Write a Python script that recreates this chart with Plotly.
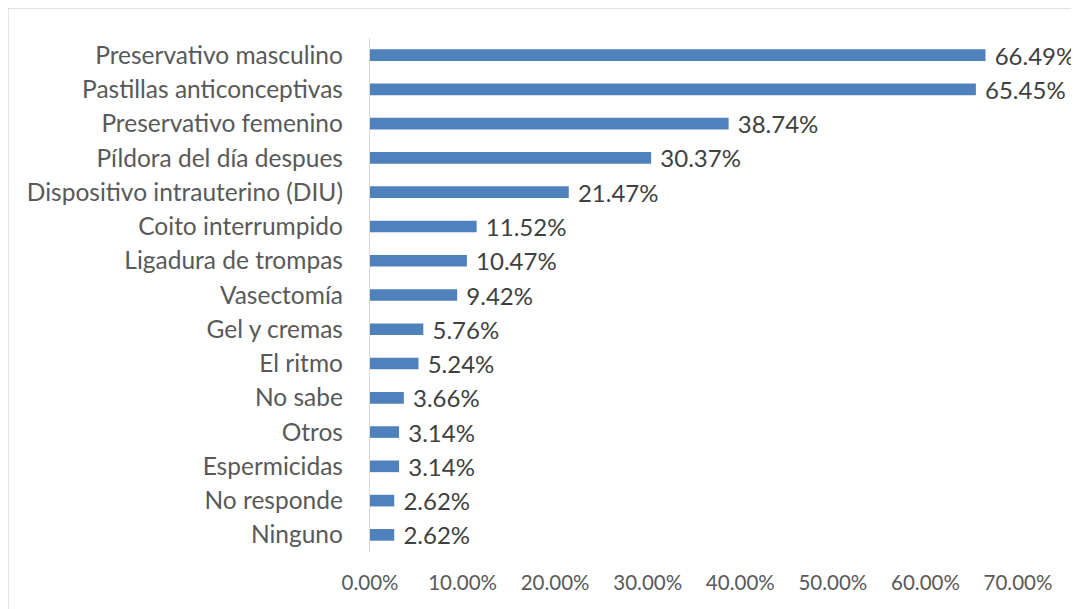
import plotly.graph_objects as go

categories = [
    "Preservativo masculino",
    "Pastillas anticonceptivas",
    "Preservativo femenino",
    "Píldora del día despues",
    "Dispositivo intrauterino (DIU)",
    "Coito interrumpido",
    "Ligadura de trompas",
    "Vasectomía",
    "Gel y cremas",
    "El ritmo",
    "No sabe",
    "Otros",
    "Espermicidas",
    "No responde",
    "Ninguno",
]
values = [66.49, 65.45, 38.74, 30.37, 21.47, 11.52, 10.47, 9.42, 5.76, 5.24, 3.66, 3.14, 3.14, 2.62, 2.62]
x_ticks = [0, 10, 20, 30, 40, 50, 60, 70]
x_tick_labels = ["0.00%", "10.00%", "20.00%", "30.00%", "40.00%", "50.00%", "60.00%", "70.00%"]

FONT = "Lato"
W, H = 1079, 609
ml, mr, mt, mb = 362, 69, 30, 65
pw, ph = W - ml - mr, H - mt - mb

fig = go.Figure(
    go.Bar(
        x=values,
        y=categories,
        orientation="h",
        marker=dict(color="#4F81BD", line=dict(width=0)),
        texttemplate="\u00a0%{x:.2f}%",
        textposition="outside",
        constraintext="none",
        textfont=dict(family=FONT, size=24, color="#404040"),
        cliponaxis=False,
        width=0.34,
    )
)

# outer chart frame (light gray border)
fig.add_shape(
    type="rect", xref="paper", yref="paper",
    x0=-ml / pw, x1=(W + 10 - ml) / pw,
    y0=-(mb + 10) / ph, y1=(ph + mt) / ph,
    line=dict(color="#D9D9D9", width=1.3), fillcolor="rgba(0,0,0,0)", layer="below",
)

fig.update_layout(
    width=W, height=H,
    margin=dict(l=ml, r=mr, t=mt, b=mb),
    plot_bgcolor="white", paper_bgcolor="white",
    showlegend=False,
    font=dict(family=FONT, color="#595959"),
    xaxis=dict(
        range=[0, 70],
        tickvals=x_ticks, ticktext=x_tick_labels,
        showgrid=False, zeroline=False, showline=False,
        ticks="", tickfont=dict(family=FONT, size=20.5, color="#595959"),
        ticklabelstandoff=16,
    ),
    yaxis=dict(
        categoryorder="array", categoryarray=categories,
        autorange="reversed",
        showgrid=False, zeroline=False,
        showline=True, linecolor="#D9D9D9", linewidth=1.3,
        ticks="", tickfont=dict(family=FONT, size=24.5, color="#595959"),
        ticklabelstandoff=21,
    ),
)

fig.write_html("out.html")
